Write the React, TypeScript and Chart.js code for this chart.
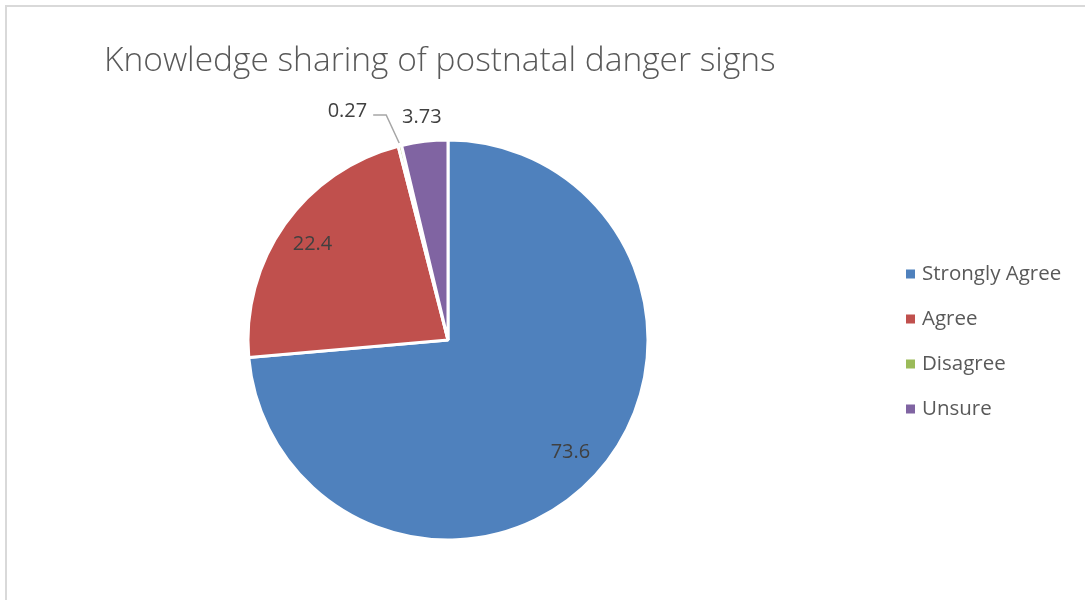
import React, { useEffect, useRef } from "react";
import { Chart, registerables } from "chart.js";

Chart.register(...registerables);

const titleText = "Knowledge sharing of postnatal danger signs";
const categories = ["Strongly Agree", "Agree", "Disagree", "Unsure"];
const values = [73.6, 22.4, 0.27, 3.73];
const valueLabels = ["73.6", "22.4", "0.27", "3.73"];
const colors = ["#4F81BD", "#C0504D", "#9BBB59", "#8064A2"];

const FONT = "'Open Sans', 'Noto Sans', sans-serif";

const overlayPlugin = {
  id: "overlay",
  afterDraw(chart: any) {
    const ctx: CanvasRenderingContext2D = chart.ctx;
    ctx.save();
    // Title
    ctx.fillStyle = "#595959";
    ctx.font = `300 33.5px ${FONT}`;
    ctx.textAlign = "left";
    ctx.textBaseline = "alphabetic";
    ctx.fillText(titleText, 104, 71);

    // Data labels
    const meta = chart.getDatasetMeta(0);
    const total = values.reduce((a, b) => a + b, 0);
    let cx = 0;
    let cy = 0;
    meta.data.forEach((arc: any, i: number) => {
      const p = arc.getProps(["x", "y", "startAngle", "endAngle", "outerRadius"], true);
      cx = p.x;
      cy = p.y;
      const mid = (p.startAngle + p.endAngle) / 2;
      const c = Math.cos(mid);
      const s = Math.sin(mid);
      const share = values[i] / total;
      ctx.font = `20px ${FONT}`;
      ctx.fillStyle = "#404040";
      if (share >= 0.1) {
        ctx.textAlign = "center";
        ctx.textBaseline = "middle";
        ctx.fillText(valueLabels[i], p.x + c * p.outerRadius * 0.83, p.y + s * p.outerRadius * 0.83);
      } else if (share >= 0.01) {
        ctx.textAlign = "center";
        ctx.textBaseline = "middle";
        ctx.fillText(valueLabels[i], p.x + c * (p.outerRadius + 24), p.y + s * (p.outerRadius + 24));
      } else {
        const ax = p.x + c * (p.outerRadius + 3);
        const ay = p.y + s * (p.outerRadius + 3);
        const ex = ax - 13;
        const ey = ay - 28;
        ctx.strokeStyle = "#A6A6A6";
        ctx.lineWidth = 1.5;
        ctx.beginPath();
        ctx.moveTo(ax, ay);
        ctx.lineTo(ex, ey);
        ctx.lineTo(ex - 13, ey);
        ctx.stroke();
        ctx.textAlign = "right";
        ctx.textBaseline = "middle";
        ctx.fillText(valueLabels[i], ex - 19, ey - 4);
      }
    });

    // Legend
    ctx.font = `20.5px ${FONT}`;
    ctx.textAlign = "left";
    ctx.textBaseline = "middle";
    categories.forEach((label, i) => {
      const y = cy + 1.5 + (i - 1.5) * 45;
      ctx.fillStyle = colors[i];
      ctx.fillRect(906, y - 4.5, 9, 9);
      ctx.fillStyle = "#595959";
      ctx.fillText(label, 922, y);
    });
    ctx.restore();
  },
};

export default function App() {
  const ref = useRef<HTMLCanvasElement | null>(null);
  useEffect(() => {
    if (!ref.current) return;
    const chart = new Chart(ref.current, {
      type: "pie",
      data: {
        labels: categories,
        datasets: [
          {
            data: values,
            backgroundColor: colors,
            borderColor: "#FFFFFF",
            borderWidth: 3,
          },
        ],
      },
      options: {
        responsive: false,
        animation: false,
        events: [],
        radius: 200,
        layout: { padding: { left: 248, right: 437, top: 140, bottom: 60 } },
        plugins: {
          legend: { display: false },
          title: { display: false },
          tooltip: { enabled: false },
        },
      } as any,
      plugins: [overlayPlugin],
    });
    return () => chart.destroy();
  }, []);

  return (
    <div style={{ position: "fixed", inset: 0, overflow: "hidden", background: "#fff" }}>
      <div
        style={{
          position: "absolute",
          left: 5,
          top: 5,
          width: 1200,
          height: 700,
          border: "2px solid #D9D9D9",
        }}
      />
      <canvas ref={ref} width={1085} height={600} style={{ position: "absolute", left: 0, top: 0 }} />
    </div>
  );
}
